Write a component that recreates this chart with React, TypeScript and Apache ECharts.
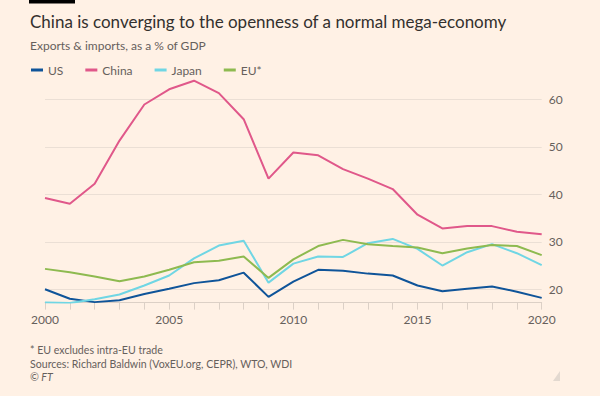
import React, { useEffect, useRef } from "react";
import * as echarts from "echarts";

const years = [2000, 2001, 2002, 2003, 2004, 2005, 2006, 2007, 2008, 2009, 2010, 2011, 2012, 2013, 2014, 2015, 2016, 2017, 2018, 2019, 2020];
const us = [20.0, 18.0, 17.3, 17.7, 19.0, 20.1, 21.3, 21.9, 23.5, 18.4, 21.6, 24.1, 23.9, 23.3, 22.9, 20.8, 19.6, 20.1, 20.6, 19.5, 18.2];
const china = [39.2, 38.0, 42.2, 51.3, 58.9, 62.1, 63.9, 61.3, 55.8, 43.3, 48.8, 48.2, 45.3, 43.3, 41.1, 35.7, 32.8, 33.3, 33.3, 32.1, 31.6];
const japan = [17.2, 17.1, 17.9, 18.9, 20.8, 22.9, 26.5, 29.2, 30.2, 21.4, 25.4, 26.9, 26.8, 29.7, 30.6, 28.5, 25.0, 27.8, 29.5, 27.6, 25.1];
const eu = [24.3, 23.6, 22.7, 21.7, 22.7, 24.1, 25.7, 26.0, 26.9, 22.4, 26.3, 29.1, 30.4, 29.5, 29.1, 28.8, 27.6, 28.6, 29.3, 29.1, 27.2];
const yTicks = [20, 30, 40, 50, 60];

const seriesDefs = [
  { name: "US", values: us, color: "#0F5499" },
  { name: "China", values: china, color: "#E0588A" },
  { name: "Japan", values: japan, color: "#70D6E4" },
  { name: "EU*", values: eu, color: "#8EBA50" },
];

const FONT = "Lato";
const GREY = "#66605C";

export default function App() {
  const ref = useRef<HTMLDivElement>(null);
  useEffect(() => {
    if (!ref.current) return;
    const chart = echarts.init(ref.current, null, { renderer: "svg" });
    chart.setOption({
      animation: false,
      backgroundColor: "#FFF1E5",
      textStyle: { fontFamily: FONT },
      grid: { left: 45, right: 58.3, top: 75.5, bottom: 93.4, containLabel: false },
      legend: {
        left: 26,
        top: 59,
        itemWidth: 12,
        itemHeight: 3,
        itemGap: 22,
        icon: "rect",
        textStyle: { color: GREY, fontSize: 12, fontFamily: FONT },
        data: seriesDefs.map((s) => s.name),
      },
      xAxis: {
        type: "value",
        min: 2000,
        max: 2020,
        interval: 5,
        axisLine: { show: true, lineStyle: { color: "#DCD0C6", width: 1 } },
        axisTick: { show: true, length: 7, lineStyle: { color: "#DCD0C6" } },
        minorTick: { show: true, splitNumber: 5, length: 7, lineStyle: { color: "#DCD0C6" } },
        splitLine: { show: false },
        axisLabel: {
          color: GREY,
          fontSize: 12,
          fontFamily: FONT,
          margin: 11,
          formatter: (v: number) => String(v),
        },
      },
      yAxis: {
        type: "value",
        position: "right",
        min: 17.2,
        max: 65,
        axisLine: { show: false },
        axisTick: { show: false, customValues: yTicks },
        splitLine: { show: false },
        axisLabel: {
          color: GREY,
          fontSize: 12,
          fontFamily: FONT,
          margin: 7,
          customValues: yTicks,
        },
      },
      series: [
        ...seriesDefs.map((s, idx) => ({
          type: "line",
          name: s.name,
          data: years.map((y, i) => [y, s.values[i]]),
          symbol: "none",
          lineStyle: { color: s.color, width: 2 },
          itemStyle: { color: s.color },
          z: 3,
          ...(idx === 0
            ? {
                markLine: {
                  silent: true,
                  symbol: "none",
                  label: { show: false },
                  lineStyle: { color: "#EBDFD5", type: "solid", width: 1 },
                  z: 1,
                  data: yTicks.map((t) => ({ yAxis: t })),
                },
              }
            : {}),
        })),
      ],
      graphic: [
        { type: "rect", shape: { x: 29, y: 0, width: 46, height: 3.5 }, style: { fill: "#000" } },
        {
          type: "text",
          x: 30,
          y: 21,
          style: {
            text: "China is converging to the openness of a normal mega-economy",
            fill: "#33302E",
            font: `17px ${FONT}`,
            verticalAlign: "middle",
          },
        },
        {
          type: "text",
          x: 30,
          y: 45,
          style: { text: "Exports & imports, as a % of GDP", fill: GREY, font: `12px ${FONT}`, verticalAlign: "middle" },
        },
        {
          type: "text",
          x: 30,
          y: 350,
          style: { text: "* EU excludes intra-EU trade", fill: GREY, font: `10.6px ${FONT}`, verticalAlign: "middle" },
        },
        {
          type: "text",
          x: 30,
          y: 364,
          style: { text: "Sources: Richard Baldwin (VoxEU.org, CEPR), WTO, WDI", fill: GREY, font: `10.6px ${FONT}`, verticalAlign: "middle" },
        },
        {
          type: "text",
          x: 30,
          y: 377,
          style: { text: "© FT", fill: GREY, font: `italic 10.6px ${FONT}`, verticalAlign: "middle" },
        },
        {
          type: "polygon",
          shape: { points: [[560, 371], [560, 381], [553, 381]] },
          style: { fill: "#E3D9D0" },
        },
      ],
    });
    return () => chart.dispose();
  }, []);
  return <div ref={ref} style={{ width: 600, height: 396, position: "absolute", left: 0, top: 0 }} />;
}
